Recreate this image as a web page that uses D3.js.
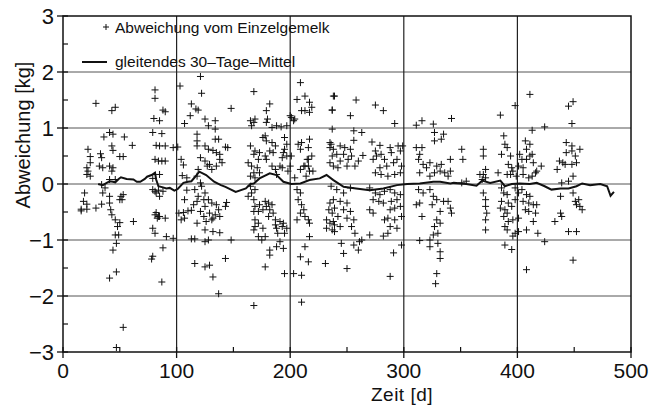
<!DOCTYPE html>
<html>
<head>
<meta charset="utf-8">
<script src="https://cdn.jsdelivr.net/npm/d3@7"></script>
<style>
  body { margin: 0; background: #fff; }
  text { font-family: "Liberation Sans", Arial, sans-serif; fill: #111; }
</style>
</head>
<body>
<svg width="649" height="406"></svg>
<script>
// Einzelgemelk-Abweichungen [Tag, kg]
const deviations = [
  [29,1.44],[43,1.31],[46,1.37],[81,1.68],[81,1.53],[88,1.32],[90,1.29],[80,1.17],[85,1.13],[103,1.75],[113,1.43],[117,1.34],[112,1.22],[107,1.08],
  [44,0.89],[41,0.92],[36,0.84],[54,0.84],[61,0.69],[43,0.68],[44,0.6],[50,0.49],[53,0.49],[33,0.54],[34,0.47],[41,0.32],[44,0.29],[32,0.32],[35,0.29],
  [22,0.62],[24,0.49],[24,0.38],[21,0.29],[22,0.23],[21,0.17],[24,0.14],[79,0.92],[87,0.9],[82,0.69],[85,0.68],[90,0.68],[81,0.44],[84,0.41],[87,0.41],
  [90,0.41],[97,0.65],[101,0.66],[104,0.44],[106,0.34],[85,0.17],[79,0.1],[43,0.23],[46,0.08],[41,0.08],[34,-0.01],[37,-0.07],[35,-0.16],[19,-0.16],
  [21,-0.36],[16,-0.48],[18,-0.31],[16,-0.45],[21,-0.45],[29,-0.43],[34,-0.36],[41,-0.34],[42,-0.46],[43,-0.55],[41,-0.22],[50,-0.28],[52,-0.28],
  [53,-0.19],[51,-0.22],[46,-0.64],[50,-0.69],[62,-0.67],[48,-0.76],[46,-0.91],[49,-0.91],[44,-1.18],[47,-1.06],[41,-1.68],[47,-1.57],[53,-2.56],
  [47,-2.92],[79,-0.1],[81,-0.13],[84,-0.11],[82,-0.16],[88,-0.13],[85,-0.22],[82,-0.51],[84,-0.58],[83,-0.61],[85,-0.58],[81,-0.55],[90,-0.61],
  [79,-0.79],[81,-0.88],[91,-0.94],[97,-0.97],[88,-1.14],[79,-1.29],[78,-1.34],[87,-1.75],[102,-0.52],[106,-0.51],[110,-0.48],[113,-0.47],[118,-0.31],
  [115,-0.37],[104,-0.64],[107,-0.61],[118,-0.7],[109,-0.11],[107,-0.28],[116,-0.1],[116,-1.42],[113,-0.98],[116,-0.98],[105,0.15],[109,0.11],
  [121,1.92],[122,1.62],[119,1.32],[148,1.35],[168,1.65],[182,1.43],[179,1.31],[180,1.16],[165,1.13],[168,1.1],[166,1.04],[169,1.16],[179,1.1],
  [184,1.01],[188,1.04],[192,1.02],[197,1.04],[201,1.19],[203,1.13],[204,1.16],[200,1.22],[209,1.81],[213,1.57],[217,1.46],[206,1.51],[219,1.37],
  [217,1.28],[210,1.31],[213,1.31],[238,1.57],[237,1.32],[125,1.16],[134,1.13],[128,1.04],[134,0.98],[118,0.89],[118,0.77],[118,0.68],[134,0.8],
  [137,0.8],[143,0.66],[145,0.65],[125,0.68],[128,0.62],[132,0.6],[135,0.56],[138,0.53],[138,0.44],[140,0.38],[135,0.32],[121,0.47],[125,0.41],
  [127,0.32],[131,0.26],[129,0.35],[165,0.68],[169,0.59],[168,0.53],[173,0.56],[172,0.44],[178,0.5],[179,0.44],[176,0.83],[178,0.86],[179,0.77],
  [187,0.68],[184,0.74],[185,0.56],[182,0.59],[195,0.83],[197,0.71],[195,0.62],[194,0.56],[193,0.47],[197,0.5],[201,0.5],[200,0.32],[210,0.74],
  [207,0.71],[209,0.62],[216,0.65],[217,0.8],[219,0.5],[215,0.44],[212,0.32],[216,0.32],[209,0.26],[237,0.98],[235,0.74],[235,0.65],[237,0.5],
  [235,0.38],[238,0.32],[163,0.38],[166,0.32],[168,0.2],[171,0.29],[173,0.2],[165,0.14],[169,0.11],[184,0.32],[187,0.26],[191,0.32],[193,0.29],
  [188,0.17],[119,0.26],[118,0.14],[121,0.02],[122,-0.04],[125,-0.16],[124,-0.28],[119,-0.22],[128,-0.28],[131,-0.34],[125,-0.4],[121,-0.49],
  [129,-0.52],[132,-0.61],[134,-0.55],[138,-0.58],[143,-0.4],[144,-0.33],[135,-0.37],[137,-0.46],[131,-0.64],[126,-0.67],[124,-0.58],[125,-0.82],
  [132,-0.85],[138,-0.87],[125,-1.03],[128,-1.0],[148,-1.0],[143,-1.33],[125,-1.48],[129,-1.45],[132,-1.66],[137,-1.96],[168,-2.17],[165,-0.04],
  [166,-0.16],[169,-0.1],[168,-0.28],[163,-0.22],[169,-0.4],[173,-0.37],[168,-0.49],[172,-0.49],[176,-0.46],[179,-0.4],[178,-0.31],[181,-0.34],
  [184,-0.37],[182,-0.46],[185,-0.52],[181,-0.58],[169,-0.64],[172,-0.7],[169,-0.76],[168,-0.82],[176,-0.79],[172,-0.94],[175,-1.0],[178,-0.94],
  [182,-1.18],[188,-1.12],[191,-1.03],[194,-1.15],[178,-1.48],[182,-1.27],[187,-0.64],[191,-0.67],[194,-0.7],[188,-0.79],[193,-0.76],[197,-0.79],
  [195,-0.88],[189,-0.88],[187,-0.73],[195,-1.6],[203,-1.6],[210,-1.63],[210,-2.11],[206,-0.1],[209,-0.16],[207,-0.28],[210,-0.37],[212,-0.46],
  [209,-0.52],[213,-0.58],[216,-0.64],[217,-0.7],[206,-0.64],[217,-0.94],[213,-1.12],[209,-1.3],[216,-1.39],[231,-1.42],[235,-0.34],[234,-0.46],
  [237,-0.52],[232,-0.64],[235,-0.7],[232,-0.79],[237,-0.82],[239,-0.73],[198,0.23],[204,0.11],[214,0.14],[217,0.23],[213,0.32],[220,0.23],[216,0.44],
  [239,1.57],[258,1.5],[275,1.41],[282,1.31],[237,1.32],[253,1.22],[292,1.08],[311,1.05],[316,1.13],[326,1.07],[342,1.17],[327,0.92],[335,0.89],
  [327,0.77],[333,0.8],[256,0.95],[263,0.92],[256,0.78],[272,0.75],[279,0.69],[288,0.65],[295,0.68],[299,0.68],[297,0.59],[236,0.71],[238,0.62],
  [244,0.68],[248,0.65],[253,0.62],[241,0.53],[247,0.53],[254,0.5],[264,0.51],[260,0.41],[251,0.44],[244,0.41],[242,0.29],[250,0.32],[257,0.32],
  [275,0.59],[276,0.5],[273,0.44],[280,0.53],[283,0.44],[289,0.56],[291,0.38],[285,0.32],[279,0.29],[275,0.2],[280,0.17],[286,0.14],[292,0.17],
  [297,0.2],[298,0.32],[294,0.44],[311,0.65],[316,0.65],[314,0.53],[313,0.44],[317,0.35],[320,0.29],[323,0.38],[329,0.32],[333,0.35],[332,0.23],
  [336,0.2],[341,0.23],[339,0.14],[323,0.14],[314,0.2],[327,0.2],[351,0.62],[352,0.44],[341,0.44],[236,-0.04],[241,-0.1],[247,-0.16],[253,-0.07],
  [238,-0.28],[244,-0.31],[250,-0.34],[239,-0.43],[247,-0.46],[253,-0.49],[242,-0.58],[250,-0.61],[256,-0.64],[238,-0.67],[244,-0.76],[239,-0.85],
  [254,-0.76],[257,-0.88],[261,-1.03],[263,-1.0],[245,-1.06],[256,-1.09],[247,-1.24],[260,-1.18],[250,-1.51],[270,-0.07],[275,-0.16],[279,-0.19],
  [283,-0.13],[288,-0.1],[292,-0.16],[273,-0.28],[278,-0.31],[282,-0.34],[289,-0.31],[294,-0.28],[297,-0.19],[270,-0.46],[273,-0.52],[288,-0.46],
  [292,-0.43],[297,-0.4],[283,-0.64],[286,-0.61],[292,-0.64],[288,-0.76],[294,-0.79],[286,-0.88],[270,-0.91],[282,-0.93],[298,-0.58],[298,-1.09],
  [291,-1.23],[288,-1.65],[313,-0.1],[317,-0.16],[314,-0.34],[311,-0.37],[323,-0.1],[326,-0.22],[329,-0.28],[325,-0.37],[335,-0.31],[339,-0.31],
  [341,-0.43],[342,-0.52],[332,-0.49],[329,-0.64],[316,-0.58],[327,-0.76],[332,-0.7],[330,-0.88],[326,-0.91],[314,-1.01],[323,-1.0],[330,-1.06],
  [323,-1.12],[332,-1.21],[332,-1.33],[329,-1.6],[328,-1.78],[351,0.02],[355,0.05],
  [411,1.6],[398,1.4],[385,1.23],[445,1.39],[449,1.47],[448,1.08],[424,1.02],[413,0.96],[370,0.62],[370,0.5],[372,0.26],[367,0.17],[370,0.17],
  [372,0.11],[369,0.08],[388,0.86],[389,0.71],[391,0.65],[386,0.53],[394,0.5],[392,0.35],[395,0.29],[391,0.17],[394,0.17],[383,0.2],[396,0.23],
  [399,0.14],[402,0.53],[404,0.44],[401,0.32],[405,0.29],[407,0.77],[411,0.71],[408,0.62],[413,0.53],[411,0.5],[408,0.44],[414,0.38],[421,0.32],
  [416,0.2],[413,0.14],[410,0.11],[417,0.23],[405,0.17],[435,0.26],[437,0.41],[440,0.38],[442,0.35],[443,0.56],[448,0.59],[451,0.5],[455,0.62],
  [443,0.74],[448,0.68],[452,0.38],[448,0.35],[445,0.05],[449,0.14],[439,0.02],[370,-0.16],[372,-0.28],[372,-0.4],[373,-0.52],[372,-0.64],[372,-0.82],
  [386,-0.07],[388,-0.16],[391,-0.19],[386,-0.31],[392,-0.34],[385,-0.43],[389,-0.46],[391,-0.52],[388,-0.58],[395,-0.4],[398,-0.28],[401,-0.16],
  [398,-0.07],[392,-0.67],[389,-0.76],[396,-0.64],[401,-0.61],[391,-0.82],[398,-0.88],[401,-0.85],[396,-0.93],[389,-1.09],[395,-1.17],[408,-1.53],
  [404,-0.1],[408,-0.19],[411,-0.22],[405,-0.31],[410,-0.34],[414,-0.37],[417,-0.37],[407,-0.46],[410,-0.49],[416,-0.52],[414,-0.67],[408,-0.82],
  [418,-0.88],[424,-1.03],[433,-0.67],[438,-0.52],[439,-0.58],[445,-0.85],[452,-0.85],[449,-1.36],[449,-0.16],[451,-0.31],[454,-0.28],[455,-0.4],
  [452,-0.37],[457,-0.46],[438,-0.22]
];

// gleitendes 30-Tage-Mittel [Tag, kg]
const movingAvg = [
  [31,0.0],[35,-0.02],[41,0.05],[44,0.04],[46,0.03],[49,0.09],[51,0.12],[56,0.09],[62,0.08],[65,0.04],[68,0.04],[72,0.09],[74,0.13],
  [78,0.16],[81,0.2],[82,0.08],[84,-0.04],[88,-0.06],[91,-0.08],[94,-0.07],[98,-0.12],[101,-0.09],[106,0.02],[110,0.04],[113,0.05],
  [116,0.12],[120,0.22],[126,0.16],[133,0.04],[139,-0.02],[143,-0.05],[152,-0.14],[161,-0.08],[165,0.0],[168,0.01],[173,0.1],
  [182,0.19],[188,0.16],[194,0.04],[201,0.0],[209,0.01],[217,0.07],[226,0.1],[232,0.16],[238,0.07],[247,-0.05],[258,-0.08],
  [270,-0.11],[282,-0.08],[294,-0.02],[303,0.0],[314,0.01],[326,0.04],[332,0.04],[341,0.01],[344,0.02],[355,0.0],[364,-0.03],
  [369,0.06],[376,0.02],[385,0.06],[389,-0.04],[395,0.0],[402,0.01],[411,0.0],[417,0.02],[424,-0.04],[430,-0.1],[438,-0.08],
  [445,-0.08],[452,-0.04],[457,0.01],[464,-0.02],[473,0.0],[479,-0.04],[482,-0.21],[485,-0.14]
];

const xTicks = [0, 100, 200, 300, 400, 500];
const xMinor = [50, 150, 250, 350, 450];
const yTicks = [-3, -2, -1, 0, 1, 2, 3];
const yMinor = [-2.5, -1.5, -0.5, 0.5, 1.5, 2.5];

const svg = d3.select("svg");
const x = d3.scaleLinear().domain([0, 500]).range([63, 631]);
const y = d3.scaleLinear().domain([-3, 3]).range([352, 16]);
const ink = "#111";

// gitter
svg.append("g")
  .selectAll("line")
  .data(yTicks.slice(1, -1))
  .join("line")
  .attr("x1", x(0)).attr("x2", x(500))
  .attr("y1", d => y(d)).attr("y2", d => y(d))
  .attr("stroke", "#555").attr("stroke-width", 1);

svg.append("g")
  .selectAll("line")
  .data(xTicks.slice(1, -1))
  .join("line")
  .attr("x1", d => x(d)).attr("x2", d => x(d))
  .attr("y1", y(-3)).attr("y2", y(3))
  .attr("stroke", "#222").attr("stroke-width", 1.2);

// rahmen
svg.append("rect")
  .attr("x", x(0)).attr("y", y(3))
  .attr("width", x(500) - x(0)).attr("height", y(-3) - y(3))
  .attr("fill", "none").attr("stroke", ink).attr("stroke-width", 1.5);

// ticks
const fmt = d3.format("d");
svg.append("g")
  .selectAll("line")
  .data(yTicks)
  .join("line")
  .attr("x1", x(0) - 6).attr("x2", x(0) + 5)
  .attr("y1", d => y(d)).attr("y2", d => y(d))
  .attr("stroke", ink).attr("stroke-width", 1.3);
svg.append("g")
  .selectAll("line")
  .data(yMinor)
  .join("line")
  .attr("x1", x(0)).attr("x2", x(0) + 5)
  .attr("y1", d => y(d)).attr("y2", d => y(d))
  .attr("stroke", ink).attr("stroke-width", 1.2);
svg.append("g")
  .selectAll("line")
  .data(xTicks)
  .join("line")
  .attr("x1", d => x(d)).attr("x2", d => x(d))
  .attr("y1", y(-3) - 5).attr("y2", y(-3) + 6)
  .attr("stroke", ink).attr("stroke-width", 1.3);
svg.append("g")
  .selectAll("line")
  .data(xMinor)
  .join("line")
  .attr("x1", d => x(d)).attr("x2", d => x(d))
  .attr("y1", y(-3) - 5).attr("y2", y(-3))
  .attr("stroke", ink).attr("stroke-width", 1.2);

svg.append("g")
  .selectAll("text")
  .data(yTicks)
  .join("text")
  .attr("x", 54).attr("y", d => y(d) + 8)
  .attr("text-anchor", "end")
  .style("font-size", "22px")
  .text(d => fmt(d));

svg.append("g")
  .selectAll("text")
  .data(xTicks)
  .join("text")
  .attr("x", d => x(d)).attr("y", 378)
  .attr("text-anchor", "middle")
  .style("font-size", "21px")
  .text(d => fmt(d));

svg.append("text")
  .attr("transform", "translate(30,135) rotate(-90)")
  .attr("text-anchor", "middle")
  .style("font-size", "20px")
  .text("Abweichung [kg]");

svg.append("text")
  .attr("x", 402).attr("y", 401)
  .attr("text-anchor", "middle")
  .style("font-size", "19px")
  .style("letter-spacing", "0.5px")
  .text("Zeit [d]");

// punkte
svg.append("g")
  .selectAll("path")
  .data(deviations)
  .join("path")
  .attr("transform", d => `translate(${x(d[0])},${y(d[1])})`)
  .attr("d", "M-3.5,0H3.5M0,-3.5V3.5")
  .attr("stroke", ink).attr("stroke-width", 1)
  .attr("fill", "none");

// gleitendes mittel
svg.append("path")
  .datum(movingAvg)
  .attr("d", d3.line().x(d => x(d[0])).y(d => y(d[1])))
  .attr("fill", "none")
  .attr("stroke", ink).attr("stroke-width", 2);

// legende
svg.append("path")
  .attr("transform", "translate(106,27)")
  .attr("d", "M-3,0H3M0,-3V3")
  .attr("stroke", ink).attr("stroke-width", 1);
svg.append("text")
  .attr("x", 115).attr("y", 33)
  .style("font-size", "15.5px")
  .text("Abweichung vom Einzelgemelk");
svg.append("line")
  .attr("x1", 82).attr("x2", 107).attr("y1", 62).attr("y2", 62)
  .attr("stroke", ink).attr("stroke-width", 2);
svg.append("text")
  .attr("x", 115).attr("y", 67)
  .style("font-size", "15.5px")
  .text("gleitendes 30–Tage–Mittel");
</script>
</body>
</html>
